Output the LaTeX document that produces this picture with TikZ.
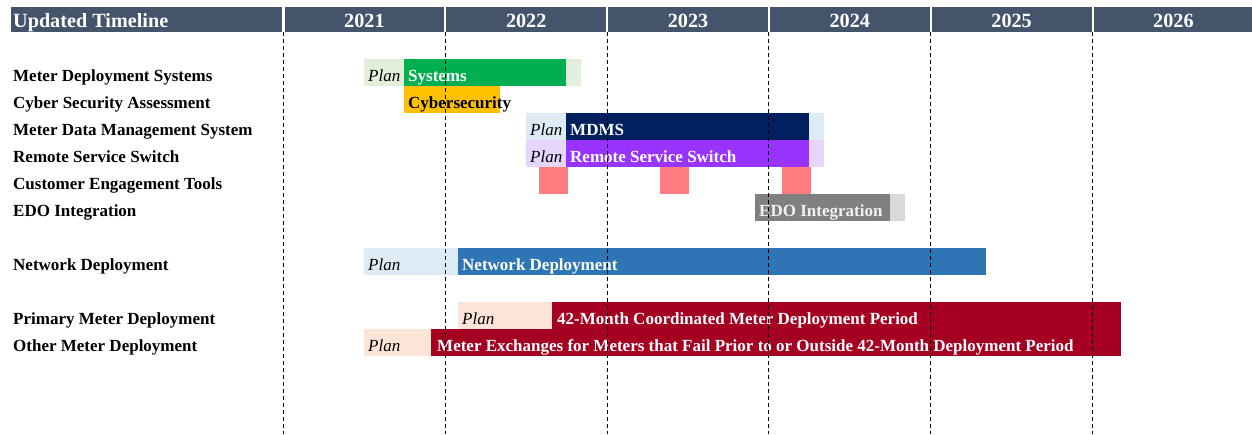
\documentclass[tikz,border=0pt]{standalone}
\usepackage{fontspec}
\setmainfont{Liberation Serif}
\definecolor{hdrblue}{HTML}{44546A}
\definecolor{plangreen}{HTML}{E2EFDA}
\definecolor{sysgreen}{HTML}{00B050}
\definecolor{cyberorange}{HTML}{FFC000}
\definecolor{planblue}{HTML}{DDEBF7}
\definecolor{mdmsnavy}{HTML}{002060}
\definecolor{planpurple}{HTML}{E6D5FC}
\definecolor{rsspurple}{HTML}{9933FF}
\definecolor{toolpink}{HTML}{FF7C80}
\definecolor{edogray}{HTML}{808080}
\definecolor{edolight}{HTML}{D9D9D9}
\definecolor{netblue}{HTML}{2E75B6}
\definecolor{planpeach}{HTML}{FCE4D6}
\definecolor{meterred}{HTML}{A50021}
\tikzset{
  rowlabel/.style={anchor=base west,inner sep=0pt,text=black,
    font=\fontsize{17}{19}\selectfont\bfseries},
  bartext/.style={anchor=base west,inner sep=0pt,text=white,
    font=\fontsize{17}{19}\selectfont\bfseries},
  plantext/.style={anchor=base west,inner sep=0pt,text=black,
    font=\fontsize{17}{19}\selectfont\itshape},
  hdrtext/.style={anchor=base,inner sep=0pt,text=white,
    font=\fontsize{20.2}{22}\selectfont\bfseries},
  yeargrid/.style={black,line width=1pt,dash pattern=on 4pt off 3pt}
}
\begin{document}
\begin{tikzpicture}[x=1pt,y=-1pt]
\useasboundingbox[fill=white] (0,0) rectangle (1252,434);
% header
\fill[hdrblue] (11,7) rectangle (282,32);
\node[hdrtext,anchor=base west] (title) at (13,27) {Updated Timeline};
\foreach \yr [count=\i from 0] in {2021,...,2026} {
  \fill[hdrblue] (284.5+161.8*\i,7) rectangle (282.5+161.8*\i+161.8,32);
  \node[hdrtext] (y\yr) at (364.4+161.8*\i,27) {\yr};
}
% row labels
\node[rowlabel] (l1) at (13,81) {Meter Deployment Systems};
\node[rowlabel] (l2) at (13,108) {Cyber Security Assessment};
\node[rowlabel] (l3) at (13,135) {Meter Data Management System};
\node[rowlabel] (l4) at (13,162) {Remote Service Switch};
\node[rowlabel] (l5) at (13,189) {Customer Engagement Tools};
\node[rowlabel] (l6) at (13,216) {EDO Integration};
\node[rowlabel] (l8) at (13,270) {Network Deployment};
\node[rowlabel] (l10) at (13,324) {Primary Meter Deployment};
\node[rowlabel] (l11) at (13,351) {Other Meter Deployment};
% systems
\fill[plangreen] (364,59) rectangle (581,86);
\fill[sysgreen] (404,59) rectangle (566,86);
\node[plantext] (p1) at (368,81) {Plan};
\node[bartext] (b1) at (408,81) {Systems};
% cyber security
\fill[cyberorange] (404,86) rectangle (500,113);
\node[bartext,text=black] (b2) at (408,108) {Cybersecurity};
% mdms
\fill[planblue] (526,113) rectangle (824,140);
\fill[mdmsnavy] (566,113) rectangle (809,140);
\node[plantext] (p3) at (530,135) {Plan};
\node[bartext] (b3) at (570,135) {MDMS};
% remote service switch
\fill[planpurple] (526,140) rectangle (824,167);
\fill[rsspurple] (566,140) rectangle (809,167);
\node[plantext] (p4) at (530,162) {Plan};
\node[bartext] (b4) at (570,162) {Remote Service Switch};
% customer engagement tools
\fill[toolpink] (539,167) rectangle (568,194);
\fill[toolpink] (660,167) rectangle (689,194);
\fill[toolpink] (782,167) rectangle (811,194);
% edo
\fill[edogray] (755,194) rectangle (890,221);
\fill[edolight] (890,194) rectangle (905,221);
\node[bartext,text=white!95!black] (b6) at (759,216) {EDO Integration};
% network
\fill[planblue] (364,248) rectangle (458,275);
\fill[netblue] (458,248) rectangle (986,275);
\node[plantext] (p8) at (368,270) {Plan};
\node[bartext] (b8) at (462,270) {Network Deployment};
% primary meters
\fill[planpeach] (458,302) rectangle (552,329);
\fill[meterred] (552,302) rectangle (1121,329);
\node[plantext] (p10) at (462,324) {Plan};
\node[bartext] (b10) at (557,324) {42-Month Coordinated Meter Deployment Period};
% other meters
\fill[planpeach] (364,329) rectangle (431,356);
\fill[meterred] (431,329) rectangle (1121,356);
\node[plantext] (p11) at (368,351) {Plan};
\node[bartext] (b11) at (437,351) {Meter Exchanges for Meters that Fail Prior to or Outside 42-Month Deployment Period};
% year lines
\foreach \i in {0,...,5}
  \draw[yeargrid] (283.5+161.8*\i,32) -- (283.5+161.8*\i,434);
\end{tikzpicture}
\end{document}
